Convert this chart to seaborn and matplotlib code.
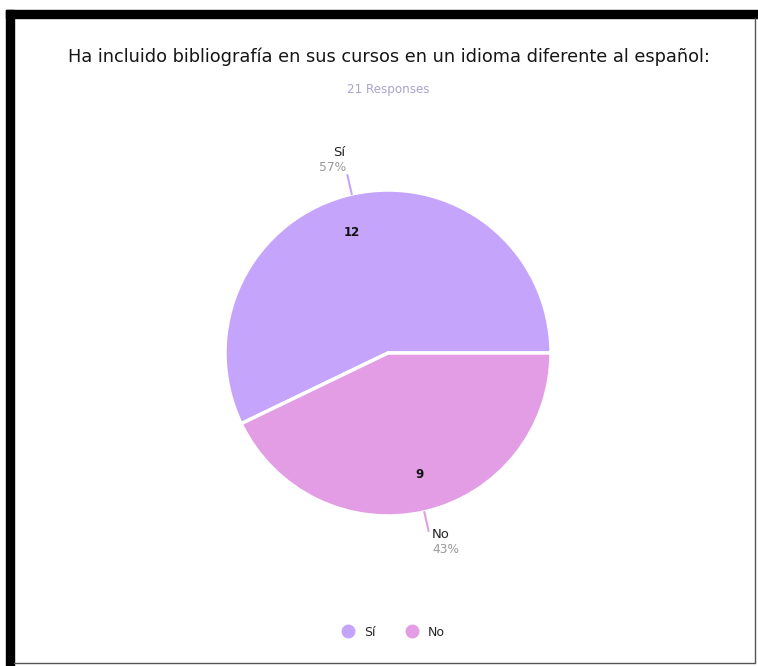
import matplotlib
matplotlib.use("Agg")
import matplotlib.pyplot as plt
import matplotlib.patches as mpatches
from matplotlib.lines import Line2D
import numpy as np
import seaborn as sns

# datos
categorias = ['Sí', 'No']
respuestas = [12, 9]
colores = ['#c5a5fb', '#e29de4']
titulo = 'Ha incluido bibliografía en sus cursos en un idioma diferente al español:'
subtitulo = '21 Responses'

sns.set_theme(style='white')
plt.rcParams['font.family'] = ['DejaVu Sans']

fig = plt.figure(figsize=(7.58, 6.66), dpi=100)
W, H = 758, 666

# marco negro (captura de pantalla)
fig.patches.append(mpatches.Rectangle((6 / W, 0), 8 / W, 1 - 10 / H, transform=fig.transFigure,
                                      color='black', zorder=0))
fig.patches.append(mpatches.Rectangle((6 / W, 1 - 18 / H), 1, 8 / H, transform=fig.transFigure,
                                      color='black', zorder=0))
fig.add_artist(Line2D([755 / W, 755 / W], [3 / H, 1 - 18 / H], transform=fig.transFigure,
                      color='#555555', lw=1))
fig.add_artist(Line2D([14 / W, 755 / W], [3 / H, 3 / H], transform=fig.transFigure,
                      color='#555555', lw=1))

fig.text(389 / W, 1 - 57 / H, titulo, ha='center', va='center', fontsize=12.8, color='#161616')
fig.text(388 / W, 1 - 89 / H, subtitulo, ha='center', va='center', fontsize=8.6, color='#aaa3cc')

# pastel
cx, cy, r = 388, 353, 163
ax = fig.add_axes([(cx - r) / W, 1 - (cy + r) / H, 2 * r / W, 2 * r / H])
wedges, _ = ax.pie(respuestas, colors=colores, startangle=0, counterclock=True,
                   wedgeprops=dict(edgecolor='white', linewidth=2.5), radius=1)
ax.set_xlim(-1, 1)
ax.set_ylim(-1, 1)
ax.set_aspect('equal')
ax.axis('off')

total = sum(respuestas)
ang0 = 0
for w, cat, val, col in zip(wedges, categorias, respuestas, colores):
    ang = ang0 + 360 * val / total / 2
    ang0 += 360 * val / total
    a = np.deg2rad(ang + (4 if ang < 180 else 2))
    # valor dentro
    ax.text(0.76 * np.cos(a), 0.77 * np.sin(a), str(val), ha='center', va='center',
            fontsize=8.5, fontweight='bold', color='#111111')
    # linea guia y etiqueta
    a = np.deg2rad(ang)
    x1, y1 = np.cos(a), np.sin(a)
    x2, y2 = 1.12 * np.cos(a), 1.12 * np.sin(a)
    ax.plot([x1, x2], [y1, y2], color=col, lw=1.5, clip_on=False)
    if y2 > 0:
        ax.text(x2 - 0.01, y2 + 0.14, cat, ha='right', va='center',
                fontsize=9.5, color='#222222', clip_on=False)
        ax.text(x2 - 0.005, y2 + 0.045, f'{round(100 * val / total)}%', ha='right',
                va='center', fontsize=8.8, color='#999999', clip_on=False)
    else:
        ax.text(x2 + 0.02, y2 - 0.02, cat, ha='left', va='center',
                fontsize=9.5, color='#222222', clip_on=False)
        ax.text(x2 + 0.02, y2 - 0.115, f'{round(100 * val / total)}%', ha='left',
                va='center', fontsize=8.8, color='#999999', clip_on=False)

# leyenda
handles = [Line2D([], [], marker='o', ls='', markersize=9, markerfacecolor=c,
                  markeredgecolor=c, label=l) for c, l in zip(colores, categorias)]
fig.legend(handles=handles, loc='center', bbox_to_anchor=(390 / W, 1 - 632 / H), ncol=2,
           frameon=False, fontsize=9, handletextpad=0.3, columnspacing=1.9)

fig.savefig('out.png', dpi=100)
